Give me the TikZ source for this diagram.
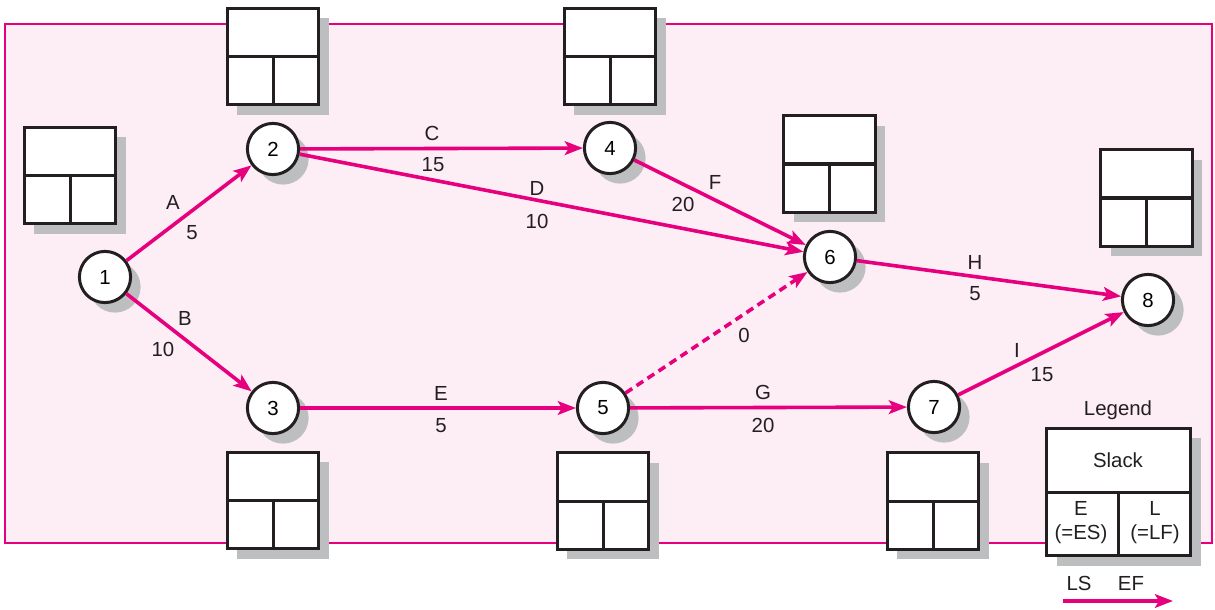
\documentclass[tikz,border=0pt]{standalone}
\usepackage{fontspec}
\setmainfont{Liberation Sans}
\usetikzlibrary{arrows.meta,shadows}
\definecolor{netpink}{RGB}{230,0,126}
\definecolor{framefill}{RGB}{253,237,245}
\definecolor{shadowgray}{RGB}{189,190,192}
\definecolor{inkdark}{RGB}{35,31,32}
\tikzset{
  greyshadow/.style={
    drop shadow={shadow xshift=0.25cm, shadow yshift=-0.25cm,
      fill=shadowgray, opacity=1}
  },
  event/.style={
    circle,
    draw=inkdark,
    line width=0.075cm,
    fill=white,
    minimum size=1.28cm,
    inner sep=0pt,
    greyshadow
  },
  timebox/.style={
    rectangle,
    draw=inkdark,
    line width=0.075cm,
    fill=white,
    minimum width=2.28cm,
    minimum height=2.41cm,
    inner sep=0pt,
    greyshadow
  },
  divider/.style={draw=inkdark, line width=0.075cm},
  activity/.style={
    netpink,
    line width=0.09cm,
    -{Stealth[length=0.45cm, width=0.34cm, inset=0.1cm]}
  },
  dummy/.style={activity, dash pattern=on 0.2cm off 0.13cm},
  lbl/.style={inner sep=0pt, text=inkdark}
}
\newcommand{\timeframe}[3]{%
  \node[timebox] (#1) at (#2,#3) {};
  \draw[divider] (#1.west) -- (#1.east);
  \draw[divider] (#1.center) -- (#1.south);
}

\begin{document}
\begin{tikzpicture}[x=0.025cm, y=-0.025cm, font=\fontsize{14.5}{17}\selectfont]
  \useasboundingbox (0,0) rectangle (1215,610);
  \draw[netpink, line width=0.055cm, fill=framefill] (5,24) rectangle (1212,543);

  % time boxes
  \timeframe{b1}{70}{175.5}
  \timeframe{b2}{273}{56.5}
  \timeframe{b4}{610}{56.5}
  \timeframe{b6}{829.5}{164}
  \timeframe{b8}{1146.5}{198}
  \timeframe{b3}{273}{500.5}
  \timeframe{b5}{603}{501}
  \timeframe{b7}{933}{501}

  % events
  \node[event] (n1) at (105,277) {1};
  \node[event] (n2) at (273,149) {2};
  \node[event] (n3) at (273,408) {3};
  \node[event] (n4) at (610,148) {4};
  \node[event] (n5) at (603,408) {5};
  \node[event] (n6) at (830,257) {6};
  \node[event] (n7) at (934,407) {7};
  \node[event] (n8) at (1148,300) {8};

  % activities
  \draw[activity] (n1) -- (n2);
  \draw[activity] (n1) -- (n3);
  \draw[activity] (n2) -- (n4);
  \draw[activity] (n2) -- (n6);
  \draw[activity] (n3) -- (n5);
  \draw[activity] (n4) -- (n6);
  \draw[dummy] (n5) -- (n6);
  \draw[activity] (n5) -- (n7);
  \draw[activity] (n6) -- (n8);
  \draw[activity] (n7) -- (n8);

  % activity labels
  \node[lbl] (lA) at (173,202) {A};
  \node[lbl] (tA) at (192,233) {5};
  \node[lbl] (lB) at (185,318) {B};
  \node[lbl] (tB) at (163,349) {10};
  \node[lbl] (lC) at (432,133) {C};
  \node[lbl] (tC) at (433,165) {15};
  \node[lbl] (lD) at (537,188) {D};
  \node[lbl] (tD) at (537,221) {10};
  \node[lbl] (lE) at (441,393) {E};
  \node[lbl] (tE) at (441,426) {5};
  \node[lbl] (lF) at (715,182) {F};
  \node[lbl] (tF) at (683,204) {20};
  \node[lbl] (tX) at (744,335) {0};
  \node[lbl] (lG) at (763,392) {G};
  \node[lbl] (tG) at (763,425) {20};
  \node[lbl] (lH) at (975,262) {H};
  \node[lbl] (tH) at (975,294) {5};
  \node[lbl] (lI) at (1017,350) {I};
  \node[lbl] (tI) at (1042,375) {15};

  % legend
  \node[lbl] (legtitle) at (1118,410) {Legend};
  \node[timebox, minimum width=3.6cm, minimum height=3.18cm] (leg) at (1118.5,492) {};
  \draw[divider] (leg.west) -- (leg.east);
  \draw[divider] (leg.center) -- (leg.south);
  \node[lbl] (slack) at (1118,460) {Slack};
  \node[lbl, align=center] (early) at (1081,523) {E\\(=ES)};
  \node[lbl, align=center] (late) at (1155,523) {L\\(=LF)};
  \node[lbl] (ls) at (1079,583) {LS};
  \node[lbl] (ef) at (1131,583) {EF};
  \coordinate (arrfrom) at (1063,601);
  \coordinate (arrto) at (1173,601);
  \draw[activity] (arrfrom) -- (arrto);
\end{tikzpicture}
\end{document}
